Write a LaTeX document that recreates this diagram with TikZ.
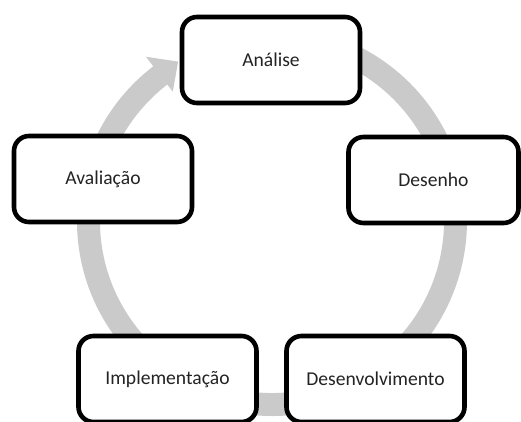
\documentclass[tikz,border=0pt]{standalone}
\usepackage{fontspec}
\setmainfont{Carlito}
\definecolor{ringgray}{RGB}{202,202,202}
\definecolor{txt}{RGB}{35,35,35}
\begin{document}
\begin{tikzpicture}[x=1pt,y=1pt,
  stage/.style={draw=black, line width=4.6pt, rounded corners=15pt, fill=white,
    minimum width=178pt, minimum height=86pt, inner sep=0pt,
    font=\fontsize{19.6}{21}\selectfont, text=txt}]
\useasboundingbox (0,0) rectangle (521,421);
% ring with arrow
\begin{scope}[shift={(272,200)}]
  \fill[ringgray] (127:195) arc[start angle=127, end angle=440, radius=195]
    -- (440:172) arc[start angle=440, end angle=127, radius=172] -- cycle;
  \fill[ringgray] (127.5:163) -- (127.5:207) -- (120.5:185) -- cycle;
\end{scope}
% stages
\node[stage] (analise) at (271,361) {Análise};
\node[stage] (desenho) at (433.5,241) [minimum width=170pt] {Desenho};
\node[stage] (desenv) at (375.5,42) {Desenvolvimento};
\node[stage] (implem) at (167.5,42) {Implementação};
\node[stage] (avalia) at (103,242) {Avaliação};
\end{tikzpicture}
\end{document}
